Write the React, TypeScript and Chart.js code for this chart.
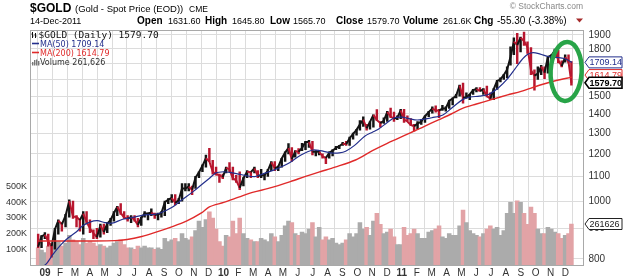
import React, { useEffect, useRef } from 'react';
import { Chart, registerables } from 'chart.js';

Chart.register(...registerables);

// ---- Weekly sessions: first week ends Friday 19-Dec-2008, last session 14-Dec-2011 ----
const FIRST_WEEK_END = '2008-12-19';
const LAST_SESSION = '2011-12-14';

const WEEK_LOW = [
  835, 835,
  865, 840, 805, 830, 880, 890, 905, 940, 935, 905, 890, 880, 915, 885, 865, 865, 870,
  880, 885, 910, 925, 945, 950, 935, 925, 920, 925, 905, 910, 940, 930, 945, 935, 930, 940,
  945, 990, 995, 985, 990, 1000, 1040, 1040, 1025, 1050, 1095, 1120, 1140, 1165, 1110, 1105, 1075,
  1090, 1115, 1120, 1085, 1075, 1045, 1060, 1095, 1095, 1115, 1095, 1095, 1085, 1100, 1125, 1125, 1125, 1140,
  1165, 1200, 1165, 1185, 1200, 1215, 1220, 1230, 1195, 1190, 1195, 1180, 1155, 1180, 1190, 1220, 1225,
  1240, 1240, 1240, 1270, 1290, 1315, 1335, 1315, 1320, 1330, 1365, 1330, 1350, 1360, 1380, 1360, 1370, 1375,
  1355, 1365, 1340, 1310, 1320, 1345, 1355, 1385, 1405, 1410, 1380, 1420, 1415, 1430, 1450, 1490, 1500,
  1460, 1490, 1480, 1510, 1525, 1530, 1510, 1495, 1480, 1480, 1540, 1585, 1600, 1610, 1690, 1760, 1700,
  1780, 1825, 1770, 1630, 1535, 1600, 1630, 1605, 1640, 1690, 1750, 1705, 1680, 1710, 1705, 1565.7,
];
const WEEK_HIGH = [
  880, 875,
  885, 880, 845, 900, 930, 920, 950, 1005, 1000, 945, 930, 960, 960, 930, 895, 900, 915,
  915, 920, 935, 960, 980, 990, 960, 945, 945, 945, 935, 940, 960, 955, 970, 955, 955, 960,
  1000, 1010, 1025, 1025, 1010, 1070, 1070, 1070, 1060, 1100, 1120, 1150, 1195, 1226, 1170, 1140, 1110,
  1110, 1140, 1160, 1140, 1105, 1120, 1095, 1125, 1120, 1140, 1125, 1130, 1110, 1130, 1165, 1165, 1145, 1180,
  1210, 1249, 1230, 1215, 1225, 1250, 1260, 1265, 1260, 1215, 1215, 1200, 1185, 1210, 1220, 1235, 1240,
  1255, 1260, 1280, 1300, 1320, 1365, 1385, 1345, 1360, 1395, 1424, 1360, 1380, 1415, 1432, 1410, 1390, 1425,
  1425, 1390, 1375, 1345, 1360, 1370, 1390, 1415, 1440, 1445, 1425, 1448, 1440, 1475, 1490, 1510, 1565,
  1577, 1520, 1510, 1540, 1550, 1550, 1545, 1560, 1520, 1545, 1595, 1610, 1630, 1680, 1815, 1880, 1912,
  1885, 1921, 1850, 1810, 1660, 1680, 1690, 1680, 1750, 1760, 1800, 1790, 1720, 1760, 1760, 1715,
];
const WEEK_CLOSE = [
  838, 872,
  878, 855, 840, 897, 927, 914, 945, 1000, 942, 940, 929, 953, 923, 899, 883, 869, 910,
  887, 916, 930, 955, 978, 955, 938, 934, 940, 930, 912, 937, 953, 953, 957, 947, 950, 955,
  995, 1006, 1012, 993, 1003, 1050, 1050, 1057, 1045, 1095, 1118, 1146, 1180, 1165, 1120, 1110, 1105,
  1097, 1137, 1130, 1092, 1083, 1052, 1092, 1120, 1118, 1135, 1102, 1105, 1105, 1125, 1162, 1135, 1142, 1179,
  1206, 1228, 1176, 1212, 1210, 1228, 1256, 1256, 1210, 1210, 1210, 1189, 1181, 1205, 1215, 1228, 1237,
  1248, 1246, 1275, 1297, 1317, 1345, 1370, 1325, 1358, 1395, 1367, 1352, 1363, 1411, 1385, 1376, 1380, 1420,
  1370, 1360, 1342, 1335, 1349, 1360, 1388, 1410, 1430, 1420, 1418, 1430, 1430, 1474, 1486, 1504, 1563,
  1492, 1492, 1510, 1536, 1542, 1530, 1539, 1500, 1486, 1542, 1591, 1601, 1628, 1663, 1745, 1852, 1828,
  1880, 1856, 1812, 1657, 1624, 1636, 1682, 1642, 1745, 1755, 1788, 1724, 1685, 1745, 1712, 1579.7,
];
// typical daily volume of each week, in thousands
const WEEK_VOLUME_K = [
  110, 95,
  80, 120, 140, 130, 150, 120, 140, 190, 160, 150, 130, 170, 140, 150, 140, 120, 130,
  120, 110, 120, 140, 150, 160, 130, 110, 110, 100, 120, 110, 120, 110, 110, 100, 110, 100,
  170, 150, 160, 170, 150, 200, 170, 160, 180, 220, 280, 240, 290, 340, 300, 230, 150,
  120, 190, 180, 280, 200, 300, 200, 170, 160, 150, 150, 170, 160, 150, 200, 180, 150, 190,
  250, 280, 270, 200, 190, 210, 200, 230, 270, 180, 240, 160, 180, 160, 170, 140, 130,
  140, 160, 200, 180, 200, 270, 230, 240, 190, 280, 330, 260, 200, 210, 230, 180, 130, 130,
  240, 190, 200, 230, 200, 170, 170, 210, 220, 230, 250, 180, 170, 200, 190, 190, 250,
  350, 270, 220, 200, 190, 180, 200, 230, 250, 230, 240, 190, 220, 330, 400, 330, 410,
  400, 330, 260, 370, 330, 230, 200, 200, 240, 230, 210, 200, 170, 190, 200, 261.626,
];

// ---- Moving averages ----
const MA50_DATES = [
  '2008-12-17', '2009-01-02', '2009-01-16', '2009-02-02', '2009-02-15', '2009-03-04', '2009-03-16',
  '2009-04-01', '2009-04-16', '2009-05-01', '2009-05-16', '2009-06-07', '2009-07-01', '2009-07-22',
  '2009-08-10', '2009-08-25', '2009-09-16', '2009-10-07', '2009-10-30', '2009-11-16', '2009-12-01',
  '2009-12-16', '2010-01-01', '2010-01-13', '2010-02-01', '2010-02-15', '2010-03-04', '2010-03-22',
  '2010-04-13', '2010-05-01', '2010-05-16', '2010-06-07', '2010-07-01', '2010-07-16', '2010-08-07',
  '2010-08-25', '2010-09-07', '2010-09-25', '2010-10-16', '2010-11-01', '2010-11-13', '2010-12-01',
  '2010-12-16', '2011-01-01', '2011-01-16', '2011-02-01', '2011-02-15', '2011-03-01', '2011-03-24',
  '2011-04-10', '2011-05-03', '2011-05-19', '2011-06-07', '2011-06-25', '2011-07-16', '2011-08-04',
  '2011-08-19', '2011-09-01', '2011-09-13', '2011-09-25', '2011-10-10', '2011-10-25', '2011-11-13',
  '2011-11-28', '2011-12-07', '2011-12-14',
];
const MA50_VALUES = [
  770, 783, 812, 844, 866, 888, 908,
  922, 927, 920, 918, 932, 940, 948,
  950, 956, 975, 1005, 1037, 1065, 1090,
  1115, 1120, 1117, 1110, 1103, 1099, 1112,
  1128, 1145, 1162, 1195, 1218, 1215, 1205,
  1205, 1212, 1240, 1285, 1305, 1320, 1355,
  1380, 1383, 1375, 1368, 1373, 1380, 1395,
  1430, 1480, 1495, 1500, 1510, 1550, 1605,
  1665, 1720, 1760, 1775, 1765, 1750, 1742,
  1735, 1722, 1709.14,
];
const MA200_DATES = [
  '2008-12-17', '2009-02-01', '2009-04-01', '2009-05-22', '2009-06-16', '2009-07-16', '2009-08-10',
  '2009-09-16', '2009-10-16', '2009-11-16', '2009-12-02', '2010-01-01', '2010-02-01', '2010-03-01',
  '2010-04-01', '2010-05-16', '2010-06-16', '2010-07-16', '2010-08-16', '2010-09-27', '2010-11-01',
  '2010-12-01', '2011-01-18', '2011-02-15', '2011-03-16', '2011-04-10', '2011-05-03', '2011-06-01',
  '2011-07-01', '2011-08-04', '2011-09-01', '2011-10-10', '2011-11-10', '2011-12-14',
];
const MA200_VALUES = [
  857, 857, 857, 858, 862, 872, 884,
  905, 925, 955, 978, 995, 1015, 1035,
  1050, 1078, 1100, 1120, 1140, 1172, 1215,
  1250, 1301, 1335, 1370, 1400, 1431, 1455,
  1480, 1507, 1528, 1566, 1592, 1614.79,
];

// ---- Axis ticks ----
const MONTH_LABELS = ['J', 'F', 'M', 'A', 'M', 'J', 'J', 'A', 'S', 'O', 'N', 'D'];
const YEAR_LABELS = ['09', '10', '11'];
const PRICE_TICKS = [800, 900, 1000, 1100, 1200, 1300, 1400, 1500, 1600, 1700, 1800, 1900];
const VOLUME_TICKS = [100000, 200000, 300000, 400000, 500000];

// ---- Quote header ----
const SYMBOL = '$GOLD';
const SYMBOL_NAME = '(Gold - Spot Price (EOD))';
const EXCHANGE = 'CME';
const QUOTE_DATE = '14-Dec-2011';
const QUOTE_KEYS = ['Open', 'High', 'Low', 'Close', 'Volume', 'Chg'];
const QUOTE_VALUES = ['1631.60', '1645.80', '1565.70', '1579.70', '261.6K', '-55.30 (-3.38%)'];
const LAST_CLOSE = 1579.7;
const LAST_MA50 = 1709.14;
const LAST_MA200 = 1614.79;
const LAST_VOLUME = 261626;

const SANS = '"Liberation Sans", Arial, sans-serif';
const VERDANA = '"DejaVu Sans", Verdana, sans-serif';
const MONO = '"DejaVu Sans Mono", monospace';
const MA50_COLOR = '#232f8c';
const MA200_COLOR = '#e02a2a';
const UP_COLOR = '#141414';
const DOWN_COLOR = '#b8162e';

const DAY = 86400000;

function monthPosOfTime(t: number): number {
  const d = new Date(t);
  const y = d.getUTCFullYear();
  const m = d.getUTCMonth();
  const day = d.getUTCDate();
  const dim = new Date(Date.UTC(y, m + 1, 0)).getUTCDate();
  const frac = (t - Date.UTC(y, m, day)) / DAY;
  return (y - 2009) * 12 + m + (day - 1 + frac) / dim;
}
const monthPos = (iso: string) => monthPosOfTime(Date.parse(iso + 'T12:00:00Z'));

const firstEnd = Date.parse(FIRST_WEEK_END + 'T00:00:00Z');
const lastSession = Date.parse(LAST_SESSION + 'T00:00:00Z');
const WEEK_X = WEEK_LOW.map((_, i) => {
  const fri = firstEnd + i * 7 * DAY;
  const mon = fri - 4 * DAY;
  const end = Math.min(fri, lastSession);
  return monthPosOfTime((mon + end) / 2 + DAY / 2);
});
const weekUp = (i: number) =>
  i === 0 ? WEEK_CLOSE[0] >= (WEEK_LOW[0] + WEEK_HIGH[0]) / 2 : WEEK_CLOSE[i] >= WEEK_CLOSE[i - 1];

function valueTag(ctx: CanvasRenderingContext2D, x: number, y: number, text: string, color: string, bold: boolean, lw: number) {
  const w = 37;
  const h = 11;
  ctx.beginPath();
  ctx.moveTo(x, y);
  ctx.lineTo(x + 4, y - h / 2);
  ctx.lineTo(x + w, y - h / 2);
  ctx.lineTo(x + w, y + h / 2);
  ctx.lineTo(x + 4, y + h / 2);
  ctx.closePath();
  ctx.fillStyle = '#fff';
  ctx.fill();
  ctx.lineWidth = lw;
  ctx.strokeStyle = color;
  ctx.stroke();
  ctx.fillStyle = color;
  ctx.font = `${bold ? 'bold ' : ''}9px ${SANS}`;
  ctx.textAlign = 'left';
  ctx.textBaseline = 'middle';
  ctx.fillText(text, x + 4.5, y + 0.5);
}

const overlayPlugin = {
  id: 'overlay',
  beforeDraw(chart: any) {
    const { ctx, width, height } = chart;
    ctx.save();
    ctx.fillStyle = '#fff';
    ctx.fillRect(0, 0, width, height);
    ctx.restore();
  },
  afterDraw(chart: any) {
    const { ctx, chartArea: a } = chart;
    const price = chart.scales.price;
    const vol = chart.scales.vol;
    const xs = chart.scales.x;
    ctx.save();

    // plot frame
    ctx.strokeStyle = '#a9a9a9';
    ctx.lineWidth = 1;
    ctx.strokeRect(Math.round(a.left) + 0.5, Math.round(a.top) + 0.5, Math.round(a.right) - Math.round(a.left) - 1, Math.round(a.bottom) - Math.round(a.top));

    const text = (s: string, x: number, y: number, font: string, color: string, align: CanvasTextAlign = 'left') => {
      ctx.font = font;
      ctx.fillStyle = color;
      ctx.textAlign = align;
      ctx.textBaseline = 'alphabetic';
      ctx.fillText(s, x, y);
    };

    // header
    text(SYMBOL, 30, 12, `bold 12px ${SANS}`, '#000');
    text(SYMBOL_NAME, 75, 12, `9.5px ${SANS}`, '#000');
    text(EXCHANGE, 189, 12, `8.5px ${SANS}`, '#000');
    text('\u00A9 StockCharts.com', 583, 9, `8.5px ${SANS}`, '#888', 'right');
    text(QUOTE_DATE, 30, 24, `9px ${SANS}`, '#000');
    const keyX = [137, 205, 270, 336, 403, 474];
    const valX = [168, 232, 293, 367, 443, 497];
    QUOTE_KEYS.forEach((k, i) => {
      text(k, keyX[i], 24, `bold 10px ${SANS}`, '#000');
      text(QUOTE_VALUES[i], valX[i], 24, `${i === 5 ? 10 : 9}px ${SANS}`, '#000');
    });
    ctx.fillStyle = '#a52a2a';
    ctx.beginPath();
    ctx.moveTo(576, 18.5);
    ctx.lineTo(583, 18.5);
    ctx.lineTo(579.5, 22.5);
    ctx.closePath();
    ctx.fill();

    // in-chart legend
    ctx.strokeStyle = '#111';
    ctx.lineWidth = 1;
    ctx.beginPath();
    [32.5, 35.5].forEach((bx, j) => {
      ctx.moveTo(bx, 32 + j);
      ctx.lineTo(bx, 38);
      ctx.moveTo(bx - 1, 34 + j);
      ctx.lineTo(bx, 34 + j);
      ctx.moveTo(bx, 36);
      ctx.lineTo(bx + 1, 36);
    });
    ctx.stroke();
    text(`${SYMBOL} (Daily) ${LAST_CLOSE.toFixed(2)}`, 38.5, 38, `9.5px ${MONO}`, '#111');

    ctx.lineWidth = 1.6;
    ctx.strokeStyle = MA50_COLOR;
    ctx.beginPath();
    ctx.moveTo(32, 43.5);
    ctx.lineTo(39, 43.5);
    ctx.stroke();
    text(`MA(50) ${LAST_MA50.toFixed(2)}`, 40, 46.5, `8px ${VERDANA}`, MA50_COLOR);

    ctx.strokeStyle = MA200_COLOR;
    ctx.beginPath();
    ctx.moveTo(32, 52.5);
    ctx.lineTo(39, 52.5);
    ctx.stroke();
    text(`MA(200) ${LAST_MA200.toFixed(2)}`, 40, 55.5, `8px ${VERDANA}`, MA200_COLOR);

    ctx.fillStyle = '#777';
    [[32, 62], [34, 60], [36, 59.5], [38, 61]].forEach(([bx, by]) => ctx.fillRect(bx, by, 1.4, 65.5 - by));
    text(`Volume ${LAST_VOLUME.toLocaleString('en-US')}`, 40, 65, `8px ${VERDANA}`, '#333');

    // last-value tags on the right axis
    const tagX = Math.round(a.right) + 1;
    valueTag(ctx, tagX, price.getPixelForValue(LAST_MA50), LAST_MA50.toFixed(2), MA50_COLOR, false, 1);
    valueTag(ctx, tagX, price.getPixelForValue(LAST_MA200) - 2, LAST_MA200.toFixed(2), MA200_COLOR, false, 1);
    valueTag(ctx, tagX, price.getPixelForValue(LAST_CLOSE), LAST_CLOSE.toFixed(2), '#000', true, 1.6);
    valueTag(ctx, tagX, vol.getPixelForValue(LAST_VOLUME), String(LAST_VOLUME), '#222', false, 1);

    // highlight ring around the latest sessions
    const cx = xs.getPixelForValue(monthPos('2011-12-02'));
    const cy = price.getPixelForValue(1650);
    ctx.strokeStyle = '#28a448';
    ctx.lineWidth = 4.5;
    ctx.beginPath();
    ctx.ellipse(cx, cy, 15.5, 29.5, 0.05, 0, Math.PI * 2);
    ctx.stroke();

    ctx.restore();
  },
};

export default function App() {
  const ref = useRef<HTMLCanvasElement>(null);

  useEffect(() => {
    const canvas = ref.current;
    if (!canvas) return;

    const priceColors = WEEK_CLOSE.map((_, i) => (weekUp(i) ? UP_COLOR : DOWN_COLOR));
    const volColors = WEEK_CLOSE.map((_, i) => (weekUp(i) ? '#ababab' : '#e2a3a6'));

    const chart = new Chart(canvas, {
      type: 'bar',
      data: {
        datasets: [
          {
            type: 'line',
            label: 'MA(50)',
            data: MA50_DATES.map((d, i) => ({ x: monthPos(d), y: MA50_VALUES[i] })),
            yAxisID: 'price',
            borderColor: MA50_COLOR,
            borderWidth: 1.2,
            pointRadius: 0,
            tension: 0.3,
            order: 0,
          } as any,
          {
            type: 'line',
            label: 'MA(200)',
            data: MA200_DATES.map((d, i) => ({ x: monthPos(d), y: MA200_VALUES[i] })),
            yAxisID: 'price',
            borderColor: MA200_COLOR,
            borderWidth: 1.4,
            pointRadius: 0,
            tension: 0.3,
            order: 1,
          },
          {
            type: 'line',
            label: 'Close',
            data: WEEK_X.map((x, i) => ({ x, y: WEEK_CLOSE[i] })),
            yAxisID: 'price',
            borderColor: UP_COLOR,
            borderWidth: 2,
            pointRadius: 0,
            tension: 0,
            segment: {
              borderColor: (c: any) => (c.p1.parsed.y >= c.p0.parsed.y ? UP_COLOR : DOWN_COLOR),
            },
            order: 2,
          },
          {
            type: 'bar',
            label: SYMBOL,
            data: WEEK_X.map((x, i) => ({ x, y: [WEEK_LOW[i], WEEK_HIGH[i]] })),
            yAxisID: 'price',
            backgroundColor: priceColors,
            barThickness: 1.8,
            grouped: false,
            order: 3,
          },
          {
            type: 'bar',
            label: 'Volume',
            data: WEEK_X.map((x, i) => ({ x, y: WEEK_VOLUME_K[i] * 1000 })),
            yAxisID: 'vol',
            backgroundColor: volColors,
            barThickness: 3.9,
            grouped: false,
            order: 4,
          },
        ],
      } as any,
      options: {
        responsive: false,
        maintainAspectRatio: false,
        animation: false,
        events: [],
        layout: { padding: { top: 30, left: 0, right: 0, bottom: 0 } },
        plugins: { legend: { display: false }, tooltip: { enabled: false } },
        scales: {
          x: {
            type: 'linear',
            position: 'bottom',
            min: -0.5,
            max: 35.7,
            afterBuildTicks: (s: any) => {
              s.ticks = Array.from({ length: 36 }, (_, i) => ({ value: i }));
            },
            afterFit: (s: any) => {
              s.height = 13;
            },
            grid: { color: '#dcdcdc', drawTicks: false },
            border: { display: false },
            ticks: {
              autoSkip: false,
              maxRotation: 0,
              padding: 2,
              color: '#333',
              font: (c: any) => ({
                family: SANS,
                size: 10,
                weight: c.tick && c.tick.value % 12 === 0 ? 'bold' : 'normal',
              }),
              callback: (v: any) => {
                const m = Math.round(Number(v));
                return m % 12 === 0 ? YEAR_LABELS[m / 12] : MONTH_LABELS[m % 12];
              },
            },
          },
          price: {
            type: 'logarithmic',
            position: 'right',
            min: 781,
            max: 1937,
            afterBuildTicks: (s: any) => {
              s.ticks = PRICE_TICKS.map((v) => ({ value: v }));
            },
            afterFit: (s: any) => {
              s.width = 40.5;
            },
            grid: { color: '#dcdcdc', drawTicks: false },
            border: { display: false },
            ticks: {
              autoSkip: false,
              padding: 5,
              color: '#333',
              font: { family: SANS, size: 10 },
              callback: (v: any) => String(v),
            },
          },
          vol: {
            type: 'linear',
            position: 'left',
            min: 0,
            max: 1500000,
            afterBuildTicks: (s: any) => {
              s.ticks = VOLUME_TICKS.map((v) => ({ value: v }));
            },
            afterFit: (s: any) => {
              s.width = 30;
            },
            grid: { display: false, drawTicks: false },
            border: { display: false },
            ticks: {
              autoSkip: false,
              padding: 3,
              color: '#333',
              font: { family: SANS, size: 9 },
              callback: (v: any) => `${Math.round(Number(v) / 1000)}K`,
            },
          },
        },
      } as any,
      plugins: [overlayPlugin],
    });

    return () => chart.destroy();
  }, []);

  return (
    <div style={{ position: 'absolute', left: 0, top: 0, width: 624, height: 278, background: '#fff' }}>
      <canvas ref={ref} width={624} height={278} style={{ display: 'block', width: 624, height: 278 }} />
    </div>
  );
}
